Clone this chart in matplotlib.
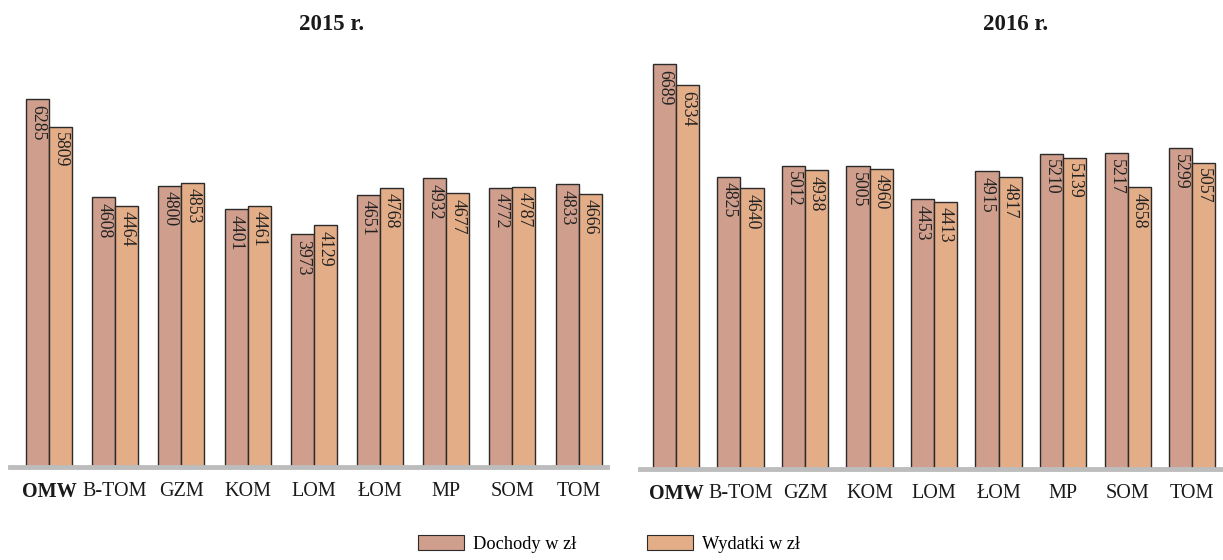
import matplotlib
matplotlib.use("Agg")
import matplotlib.pyplot as plt
import numpy as np
from matplotlib.patches import Patch

plt.rcParams['font.family'] = ['Liberation Serif', 'DejaVu Serif']

categories = ["OMW", "B-TOM", "GZM", "KOM", "LOM", "ŁOM", "MP", "SOM", "TOM"]
doch_2015 = [6285, 4608, 4800, 4401, 3973, 4651, 4932, 4772, 4833]
wyd_2015 = [5809, 4464, 4853, 4461, 4129, 4768, 4677, 4787, 4666]
doch_2016 = [6689, 4825, 5012, 5005, 4453, 4915, 5210, 5217, 5299]
wyd_2016 = [6334, 4640, 4938, 4960, 4413, 4817, 5139, 4658, 5057]
titles = ["2015 r.", "2016 r."]
legend_labels = ["Dochody w zł", "Wydatki w zł"]

C_D = "#cf9e8c"
C_W = "#e3ad88"
EDGE = "#2b2b2b"

W, H = 1223, 560
fig = plt.figure(figsize=(W / 100, H / 100), dpi=100)

def px_axes(x0, x1, ybot, ytop):
    return fig.add_axes([x0 / W, 1 - ybot / H, (x1 - x0) / W, (ybot - ytop) / H])

configs = [
    dict(x0=10, x1=607, ybot=467, ytop=40, ymax=7292, xlim=(-0.589, 8.43), bw=0.347,
         d=doch_2015, w=wyd_2015, title=titles[0], tx=332),
    dict(x0=640, x1=1223, ybot=469, ytop=40, ymax=7085, xlim=(-0.558, 8.48), bw=0.357,
         d=doch_2016, w=wyd_2016, title=titles[1], tx=1016),
]

x = np.arange(len(categories))
for cfg in configs:
    ax = px_axes(cfg['x0'], cfg['x1'], cfg['ybot'], cfg['ytop'])
    bw = cfg['bw']
    b1 = ax.bar(x - bw / 2, cfg['d'], width=bw, color=C_D, edgecolor=EDGE, linewidth=1.0)
    b2 = ax.bar(x + bw / 2, cfg['w'], width=bw, color=C_W, edgecolor=EDGE, linewidth=1.0)
    for bars in (b1, b2):
        for r in bars:
            v = r.get_height()
            ax.annotate(f"{int(v)}", (r.get_x() + r.get_width() / 2, v),
                        xytext=(0, -4), textcoords="offset points",
                        rotation=-90, ha='center', va='top', fontsize=12.8, color="#222222")
    ax.set_ylim(0, cfg['ymax'])
    ax.set_xlim(*cfg['xlim'])
    for s in ('top', 'right', 'left'):
        ax.spines[s].set_visible(False)
    ax.spines['bottom'].set_color("#bdbdbd")
    ax.spines['bottom'].set_linewidth(3.5)
    ax.spines['bottom'].set_zorder(3)
    ax.set_yticks([])
    ax.set_xticks(x)
    ax.set_xticklabels(categories, fontsize=14.5, color="#1a1a1a")
    ax.get_xticklabels()[0].set_fontweight('bold')
    ax.tick_params(axis='x', length=0, pad=11)
    fig.text(cfg['tx'] / W, 1 - 25 / H, cfg['title'], ha='center', va='center',
             fontsize=16.5, fontweight='bold', color="#1a1a1a")

handles = [Patch(facecolor=C_D, edgecolor=EDGE, linewidth=0.8),
           Patch(facecolor=C_W, edgecolor=EDGE, linewidth=0.8)]
fig.legend(handles, legend_labels, loc='center', bbox_to_anchor=(0.498, 16 / H), ncol=2,
           frameon=False, fontsize=13.2, handlelength=2.5, handleheight=0.82,
           handletextpad=0.45, columnspacing=3.9)

fig.savefig("out.png", dpi=100)
